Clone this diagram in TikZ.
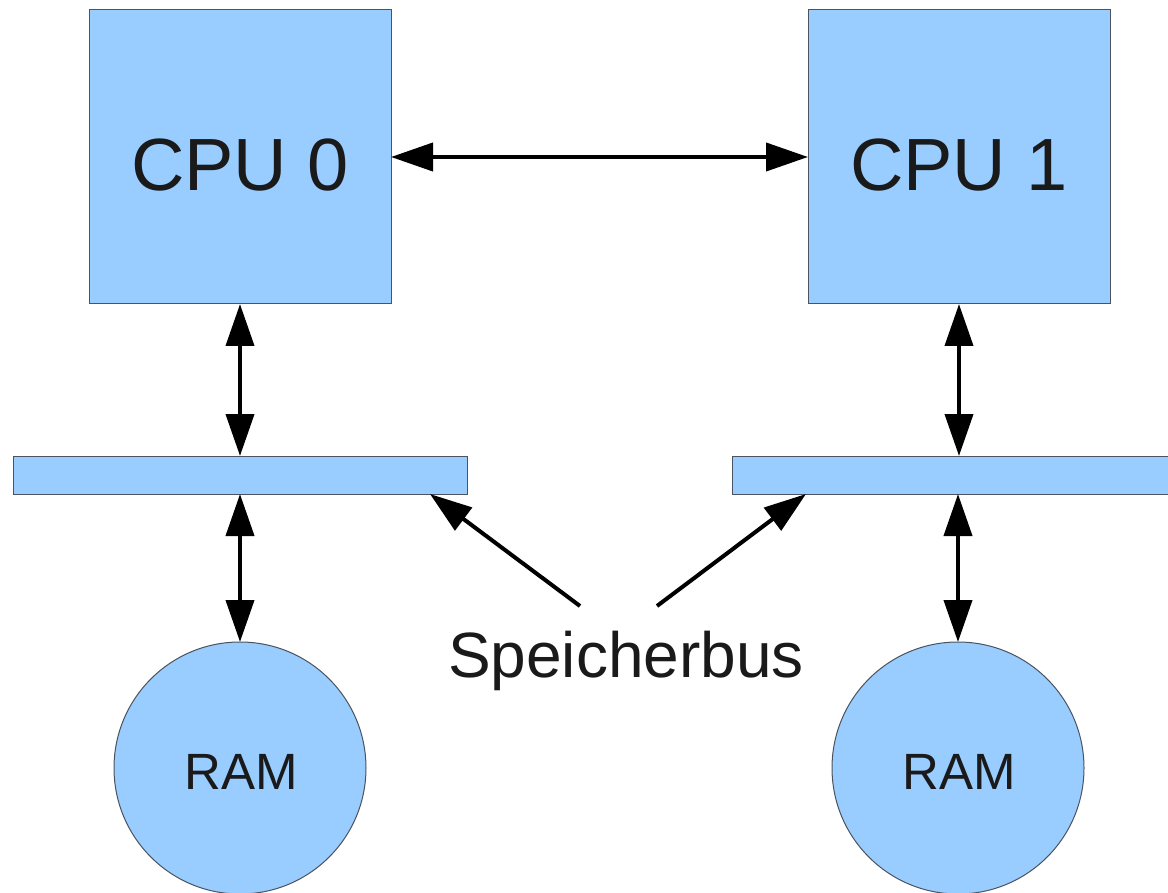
\documentclass[tikz,border=0pt]{standalone}
\usepackage{fontspec}
\setmainfont{Liberation Sans}
\usetikzlibrary{arrows.meta,calc}
\definecolor{boxfill}{HTML}{99CCFF}
\definecolor{boxline}{HTML}{4A5360}
\definecolor{ink}{HTML}{1A1A1A}
\tikzset{
  unit/.style={draw=boxline, fill=boxfill, line width=1pt, outer sep=0pt, inner sep=0pt},
  cpubox/.style={unit, rectangle, minimum width=302pt, minimum height=294pt},
  busbar/.style={unit, rectangle, minimum height=38pt},
  ramdisc/.style={unit, circle, minimum size=252pt},
  link/.style={line width=4pt, -{Triangle[length=42pt,width=28pt]}},
  dlink/.style={line width=4pt, {Triangle[length=42pt,width=28pt]}-{Triangle[length=42pt,width=28pt]}},
  lbl/.style={text=ink, inner sep=0pt, anchor=base}
}
\begin{document}
\begin{tikzpicture}[x=1pt, y=-1pt]
\useasboundingbox (0,0) rectangle (1168,893);
\begin{scope}
\clip (0,0) rectangle (1168,893);
% processors
\node[cpubox] (cpu0) at (240,157) {};
\node[cpubox] (cpu1) at (959,157) {};
% memory buses
\node[busbar, minimum width=454pt] (bus0) at (240,475) {};
\node[busbar, minimum width=470pt] (bus1) at (967,475) {};
% memories
\node[ramdisc] (ram0) at (240,768) {};
\node[ramdisc] (ram1) at (958,768) {};
\end{scope}
% labels
\node[lbl, font=\fontsize{74}{88}\selectfont] at (240,191) {CPU 0};
\node[lbl, font=\fontsize{74}{88}\selectfont] at (959,191) {CPU 1};
\node[lbl, font=\fontsize{51}{60}\selectfont] at (241,789) {RAM};
\node[lbl, font=\fontsize{51}{60}\selectfont] at (959,789) {RAM};
\node[lbl, font=\fontsize{64}{76}\selectfont] (sb) at (626,677) {Speicherbus};
% interconnect
\draw[dlink] (cpu0.east) -- (cpu1.west);
\draw[dlink] (cpu0.south) -- (cpu0.south |- bus0.north);
\draw[dlink] (cpu1.south) -- (cpu1.south |- bus1.north);
\draw[dlink] (ram0.north |- bus0.south) -- (ram0.north);
\draw[dlink] (ram1.north |- bus1.south) -- (ram1.north);
% pointers to the buses
\coordinate (t0) at (580,606);
\coordinate (t1) at (657,606);
\draw[link] (t0) -- ($(bus0.south east)+(-37,0)$);
\draw[link] (t1) -- ($(bus1.south west)+(74,0)$);
\end{tikzpicture}
\end{document}
